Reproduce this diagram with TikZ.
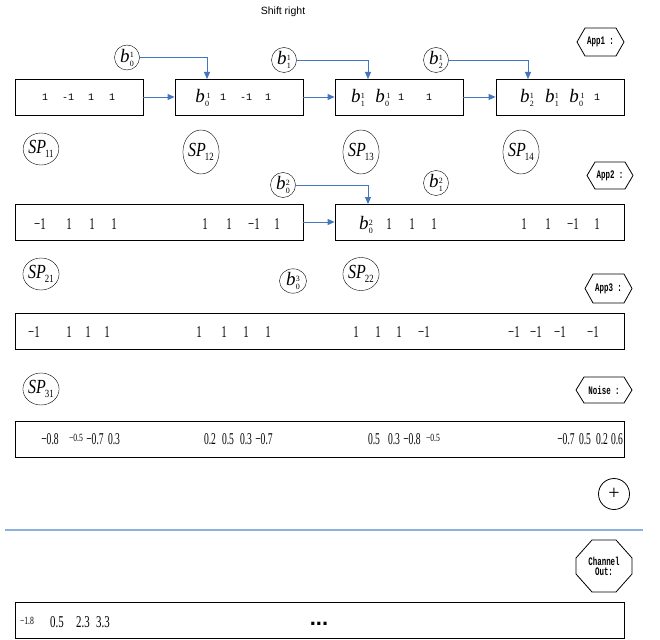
\documentclass[tikz,border=0pt]{standalone}
\usepackage{fontspec}
\usepackage{graphicx}
\setmainfont{Liberation Serif}
\newfontfamily\sansf{Liberation Sans}
\newfontfamily\monof{Liberation Mono}
\usetikzlibrary{arrows.meta,shapes.geometric,calc}
\definecolor{arrowblue}{RGB}{68,118,190}
\definecolor{lineblue}{RGB}{140,178,220}
\newcommand{\tnum}[1]{\scalebox{0.66}[1]{\fontsize{16.5}{16.5}\selectfont #1}}
\newcommand{\nnum}[1]{\scalebox{0.58}[1]{\fontsize{16.5}{16.5}\selectfont #1}}
\newcommand{\snum}[1]{\scalebox{0.7}[1]{\fontsize{11}{11}\selectfont #1}}
\newcommand{\mnum}[1]{{\monof\fontsize{10}{10}\selectfont #1}}
\newcommand{\bsym}[2]{{\fontsize{19}{19}\selectfont\itshape b}\kern0.3pt\raisebox{-4pt}{\fontsize{8}{8}\selectfont\shortstack[l]{#2\\#1}}}
\newcommand{\spsym}[1]{\scalebox{0.8}[1]{\fontsize{20}{20}\selectfont\itshape SP}\kern-1pt\raisebox{-3.5pt}{\scalebox{0.8}[1]{\fontsize{11}{11}\selectfont #1}}}
\newcommand{\labfont}[1]{\scalebox{0.65}[1]{\monof\bfseries\fontsize{11.5}{11.5}\selectfont #1}}
\begin{document}
\begin{tikzpicture}[x=1pt,y=-1pt,
  box/.style={draw, line width=0.8pt, minimum height=36pt, inner sep=0pt},
  arr/.style={arrowblue, draw=arrowblue, line width=0.9pt, -{Triangle[length=7pt,width=6pt]}},
  bcirc/.style={draw, circle, inner sep=0pt, minimum size=25pt},
  spell/.style={draw, ellipse, inner sep=0pt, minimum width=32pt, minimum height=44pt},
  tn/.style={inner sep=0pt},
  hexnode/.style={inner sep=0pt}]
\useasboundingbox (0,0) rectangle (660,639);

\node[tn] (title) at (283,12) {\sansf\fontsize{10.5}{10.5}\selectfont Shift right};

% ---------- Row 1 ----------
\node[box, minimum width=128pt] (box1) at (79,97) {};
\node[box, minimum width=128pt] (box2) at (239,97) {};
\node[box, minimum width=128pt] (box3) at (399,97) {};
\node[box, minimum width=128pt] (box4) at (560,97) {};
\draw[arr] (box1.east) -- (box2.west);
\draw[arr] (box2.east) -- (box3.west);
\draw[arr] (box3.east) -- (box4.west);

\node[bcirc] (b01) at (127,57.5) {\bsym{0}{1}};
\node[bcirc] (b11) at (284,60) {\bsym{1}{1}};
\node[bcirc] (b21) at (436,60) {\bsym{2}{1}};
\coordinate (t2) at (207,79);
\coordinate (t3) at (368,79);
\coordinate (t4) at (528,79);
\draw[arr] (b01.east) -| (t2);
\draw[arr] (b11.east) -| (t3);
\draw[arr] (b21.east) -| (t4);

\foreach \x/\t [count=\i] in {45/1, 68/-1, 91/1, 112/1, 223/1, 246/-1, 268/1, 401/1, 429/1, 597/1}
  \node[tn] (m-\i) at (\x,97) {\mnum{\t}};
\node[tn] (x21) at (203,98) {\bsym{0}{\,1}};
\node[tn] (x31) at (358,98) {\bsym{1}{1}};
\node[tn] (x32) at (383,98) {\bsym{0}{\,1}};
\node[tn] (x41) at (527,98) {\bsym{2}{1}};
\node[tn] (x42) at (552,98) {\bsym{1}{1}};
\node[tn] (x43) at (577,98) {\bsym{0}{\,1}};

% App1 hexagon
\node[hexnode] (app1) at (600.5,42) {\labfont{App1 :}};
\draw[line width=0.8pt] ($(app1)+(-23.5,0)$) -- ++(8,-14) -- ++(31,0) -- ++(8,14) -- ++(-8,14) -- ++(-31,0) -- cycle;

% ---------- Row 2 ----------
\node[spell, minimum height=32pt] (sp11) at (41,149) {\spsym{11}};
\node[spell] (sp12) at (201,152) {\spsym{12}};
\node[spell] (sp13) at (361,152) {\spsym{13}};
\node[spell] (sp14) at (521,152) {\spsym{14}};
\node[bcirc] (b02) at (283,185) {\bsym{0}{2}};
\node[bcirc] (b12) at (436,183) {\bsym{1}{2}};

\node[hexnode] (app2) at (610,175.5) {\labfont{App2 :}};
\draw[line width=0.8pt] ($(app2)+(-23,0)$) -- ++(8,-13.5) -- ++(30,0) -- ++(8,13.5) -- ++(-8,13.5) -- ++(-30,0) -- cycle;

\node[box, minimum width=288pt] (boxA) at (159,222) {};
\node[box, minimum width=289pt] (boxB) at (479.5,222) {};
\draw[arr] (boxA.east) -- (boxB.west);
\coordinate (tB) at (368,204);
\draw[arr] (b02.east) -| (tB);

\foreach \x/\t [count=\i] in {40/−1, 69/1, 92/1, 114/1, 205/1, 229/1, 254/−1, 277/1, 389/1, 412/1, 434/1, 524/1, 548/1, 573/−1, 597/1}
  \node[tn] (r2-\i) at (\x,224) {\tnum{\t}};
\node[tn] (y21) at (366,225) {\bsym{0}{2}};

% ---------- Row 3 ----------
\node[spell, minimum height=32pt] (sp21) at (41,274) {\spsym{21}};
\node[spell, minimum height=33pt] (sp22) at (361,274) {\spsym{22}};
\node[draw, ellipse, inner sep=0pt, minimum width=27pt, minimum height=22pt] (b03) at (293,281) {\bsym{0}{3}};
\node[hexnode] (app3) at (608.5,288.5) {\labfont{App3 :}};
\draw[line width=0.8pt] ($(app3)+(-23.5,0)$) -- ++(8,-14.5) -- ++(31,0) -- ++(8,14.5) -- ++(-8,14.5) -- ++(-31,0) -- cycle;

\node[box, minimum width=609pt] (boxC) at (319.5,331) {};
\foreach \x/\t [count=\i] in {34/−1, 69/1, 88/1, 107/1, 199/1, 224/1, 246/1, 268/1, 356/1, 378/1, 399/1, 424/−1, 514/−1, 536/−1, 560/−1, 593/−1}
  \node[tn] (r3-\i) at (\x,332) {\tnum{\t}};

% ---------- Row 4 ----------
\node[spell, minimum height=32pt] (sp31) at (41,389) {\spsym{31}};
\node[hexnode] (noise) at (604,390) {\labfont{Noise :}};
\draw[line width=0.8pt] ($(noise)+(-28,0)$) -- ++(8,-13) -- ++(40,0) -- ++(8,13) -- ++(-8,13) -- ++(-40,0) -- cycle;

\node[box, minimum width=609pt] (boxD) at (319.5,439) {};
\foreach \x/\t [count=\i] in {50/−0.8, 95/−0.7, 114/0.3, 210/0.2, 228/0.5, 246/0.3, 264/−0.7, 374/0.5, 394/0.3, 412/−0.8, 566/−0.7, 585/0.5, 602/0.2, 617/0.6}
  \node[tn] (r4-\i) at (\x,439) {\nnum{\t}};
\node[tn] (r4s1) at (76,438) {\snum{−0.5}};
\node[tn] (r4s2) at (433,438) {\snum{−0.5}};

% ---------- Sum and channel ----------
\node[draw, circle, inner sep=0pt, minimum size=31pt, line width=0.8pt] (plus) at (614,494) {\fontsize{20}{20}\selectfont +};
\coordinate (sepL) at (5,530);
\coordinate (sepR) at (643,530);
\draw[lineblue, line width=1.3pt] (sepL) -- (sepR);

\node[hexnode, align=center] (chan) at (604,566) {\labfont{Channel}\\[-2pt]\labfont{Out:}};
\draw[line width=0.8pt] ($(chan)+(-28,-8)$) -- ++(16,-18) -- ++(24,0) -- ++(16,18) -- ++(0,16) -- ++(-16,18) -- ++(-24,0) -- ++(-16,-18) -- cycle;

\node[box, minimum width=609pt] (boxE) at (319.5,620) {};
\node[tn] (e1) at (27,621) {\snum{−1.8}};
\foreach \x/\t [count=\i] in {57/0.5, 83/2.3, 103/3.3}
  \node[tn] (e-\i) at (\x,622) {\tnum{\t}};
\node[tn] (dots) at (319,624) {\sansf\bfseries\fontsize{22}{22}\selectfont ...};
\end{tikzpicture}
\end{document}
